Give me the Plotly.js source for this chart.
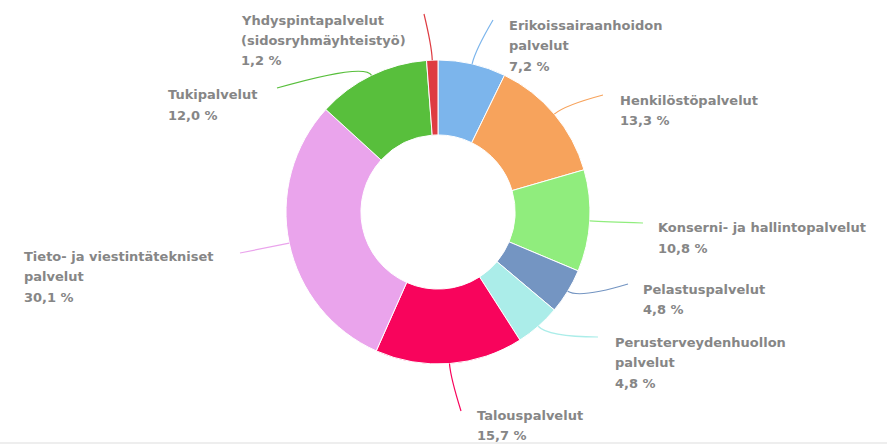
<!DOCTYPE html>
<html>
<head>
<meta charset="utf-8">
<script src="https://cdn.plot.ly/plotly-3.0.1.min.js"></script>
<style>html,body{margin:0;padding:0;background:#fff;}#chart{width:887px;height:445px;}</style>
</head>
<body>
<div id="chart"></div>
<script>
// ---- data ----
const categories = [
  'Erikoissairaanhoidon palvelut',
  'Henkilöstöpalvelut',
  'Konserni- ja hallintopalvelut',
  'Pelastuspalvelut',
  'Perusterveydenhuollon palvelut',
  'Talouspalvelut',
  'Tieto- ja viestintätekniset palvelut',
  'Tukipalvelut',
  'Yhdyspintapalvelut (sidosryhmäyhteistyö)'
];
const values = [7.2, 13.3, 10.8, 4.8, 4.8, 15.7, 30.1, 12.0, 1.2];
const labelLines = [
  ['Erikoissairaanhoidon', 'palvelut'],
  ['Henkilöstöpalvelut'],
  ['Konserni- ja hallintopalvelut'],
  ['Pelastuspalvelut'],
  ['Perusterveydenhuollon', 'palvelut'],
  ['Talouspalvelut'],
  ['Tieto- ja viestintätekniset', 'palvelut'],
  ['Tukipalvelut'],
  ['Yhdyspintapalvelut', '(sidosryhmäyhteistyö)']
];
const colors = ['#7cb5ec', '#f7a35c', '#90ed7d', '#7495c2', '#abede9', '#f8045c', '#eaa4ec', '#58bf3c', '#de3c42'];

// ---- layout (pixel positions) ----
const W = 887, H = 445, cx = 438, cy = 212, R = 152;
const labelPos = [[507, 25], [618, 100], [656, 228], [641, 289], [613, 342], [475, 415], [22, 256], [166, 95], [239, 20]];
const lineEnd = [[493, 20], [603, 95], [643, 223], [628, 284], [598, 337], [461, 411], [240, 253], [277, 88], [424, 14]];
const lineGap = 20.5;

const px = x => x / W, py = y => 1 - y / H;
const total = values.reduce((a, b) => a + b, 0);

const annotations = [];
const shapes = [];
let cum = 0;
values.forEach((v, i) => {
  const a = (cum + v / 2) / total * 2 * Math.PI;
  cum += v;
  const sx = cx + R * Math.sin(a), sy = cy - R * Math.cos(a);
  const kx = cx + (R + 14) * Math.sin(a), ky = cy - (R + 14) * Math.cos(a);
  const [ex, ey] = lineEnd[i];
  shapes.push({
    type: 'path', xref: 'paper', yref: 'paper',
    path: `M ${px(sx)},${py(sy)} Q ${px(kx)},${py(ky)} ${px(ex)},${py(ey)}`,
    line: {color: colors[i], width: 1.2}
  });
  const lines = labelLines[i].concat([v.toFixed(1).replace('.', ',') + ' %']);
  lines.forEach((t, j) => {
    annotations.push({
      xref: 'paper', yref: 'paper',
      x: px(labelPos[i][0]), y: py(labelPos[i][1] + j * lineGap),
      xanchor: 'left', yanchor: 'middle', showarrow: false,
      text: '<b>' + t + '</b>',
      font: {family: 'DejaVu Sans', size: 13, color: '#868686'}
    });
  });
});

shapes.push({type: 'line', xref: 'paper', yref: 'paper', x0: 0, x1: 1, y0: py(443), y1: py(443), line: {color: '#dddddd', width: 1}});

const trace = {
  type: 'pie',
  labels: categories,
  values: values,
  sort: false,
  direction: 'clockwise',
  rotation: 0,
  hole: 0.507,
  textinfo: 'none',
  textposition: 'none',
  marker: {colors: colors, line: {color: '#ffffff', width: 1}},
  domain: {x: [px(cx - R), px(cx + R)], y: [py(cy + R), py(cy - R)]},
  showlegend: false
};

Plotly.newPlot('chart', [trace], {
  width: W, height: H,
  margin: {l: 0, r: 0, t: 0, b: 0},
  paper_bgcolor: '#ffffff',
  showlegend: false,
  annotations: annotations,
  shapes: shapes
}, {displayModeBar: false, staticPlot: true});
</script>
</body>
</html>
